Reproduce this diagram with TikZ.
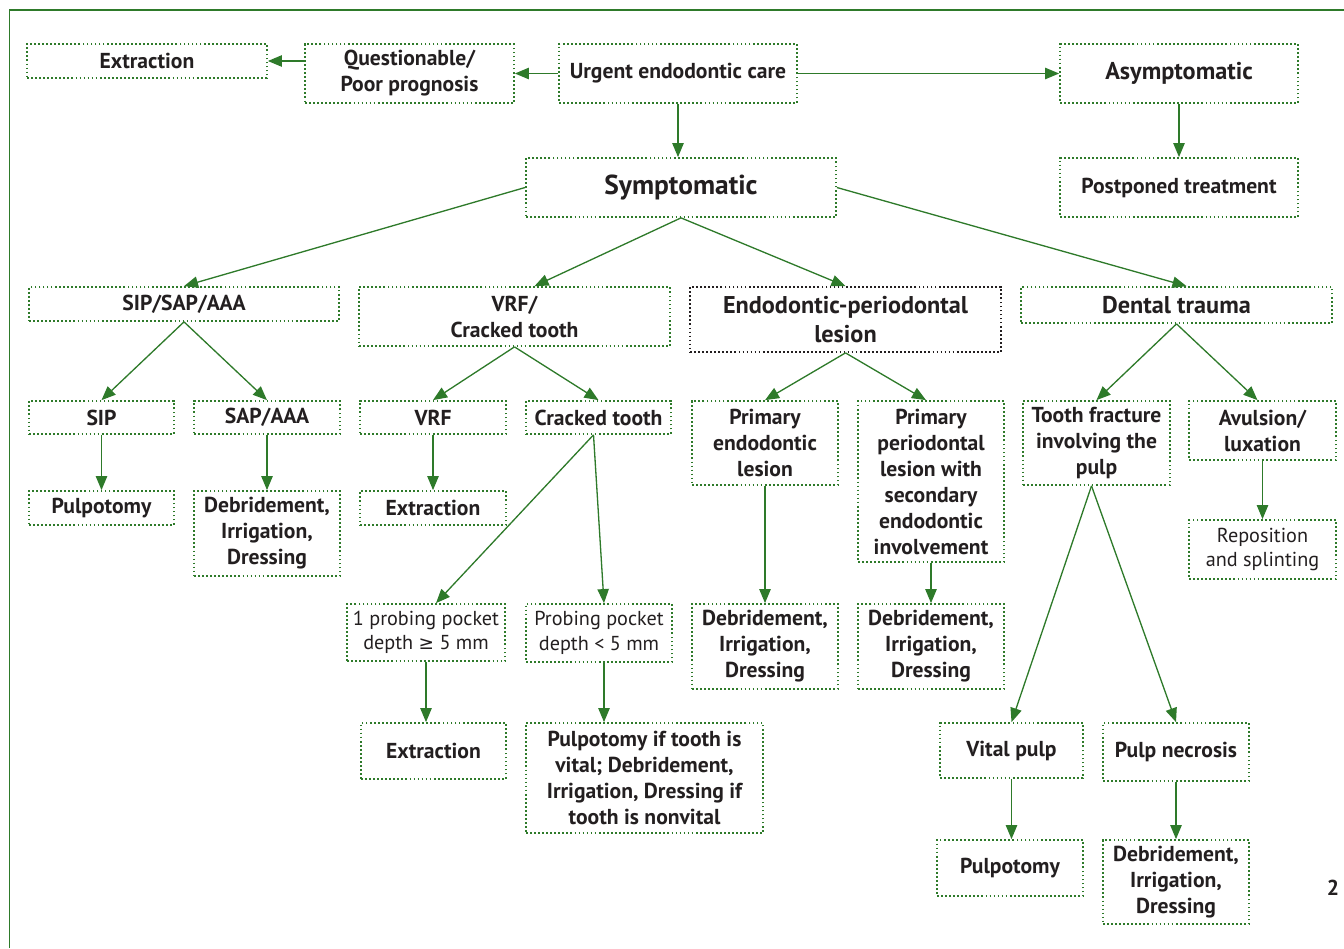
\documentclass[tikz,border=0pt]{standalone}
\usepackage{fontspec}
\setmainfont{PT Sans}
\newfontfamily\symfnt{DejaVu Sans}
\usepackage{tikz}
\usetikzlibrary{arrows.meta}
\definecolor{dkgreen}{RGB}{46,122,42}
\definecolor{txt}{RGB}{35,31,32}
\tikzset{
  box/.style={draw=dkgreen, line width=1pt, dash pattern=on 1pt off 1.3pt, align=center, inner sep=0pt, text=txt, font=\bfseries\fontsize{12.3}{14.8}\selectfont},
  plainbox/.style={box, font=\fontsize{11.5}{14}\selectfont},
  bigbox/.style={box, font=\bfseries\fontsize{13.8}{16.5}\selectfont},
  arr/.style={draw=dkgreen, line width=0.75pt, -{Triangle[length=8pt,width=6.5pt]}},
}
\begin{document}
\begin{tikzpicture}
      \useasboundingbox (0,0) rectangle (26.88,-18.96);
      \draw[dkgreen, line width=1.1pt] (0.19,-18.96) -- (0.19,-0.2) -- (26.88,-0.2);
      %%%%%%%%%%%%%%%%%%%%%%%%%%%%%%%%%%%%%%%%%%%%%%%
      \node[box, minimum width=4.8cm, minimum height=0.68cm] at (2.94,-1.22) (ext0) {Extraction};
      \node[box, minimum width=4.18cm, minimum height=1.18cm] at (8.19,-1.47) (quest) {Questionable/\\Poor prognosis};
      \node[box, minimum width=4.76cm, minimum height=1.18cm] at (13.56,-1.47) (urgent) {Urgent endodontic care};
      \node[bigbox, minimum width=4.76cm, minimum height=1.18cm] at (23.58,-1.47) (asym) {Asymptomatic};
      \draw[arr] (urgent) -- (quest);
      \draw[arr] (quest.west |- ext0.east) -- (ext0.east);
      \draw[arr] (urgent) -- (asym);
      %%%%%%%%%%%%%%%%%%%%%%%%%%%%%%%%%%%%%%%%%%%%%%%
      \node[box, minimum width=6.2cm, minimum height=1.18cm, font=\bfseries\fontsize{15.6}{18}\selectfont] at (13.62,-3.75) (sympt) {Symptomatic};
      \node[box, minimum width=4.76cm, minimum height=1.18cm] at (23.58,-3.75) (postp) {Postponed treatment};
      \draw[arr] (urgent.south) -- (urgent.south |- sympt.north);
      \draw[arr] (asym) -- (postp);
      %%%%%%%%%%%%%%%%%%%%%%%%%%%%%%%%%%%%%%%%%%%%%%%
      \node[box, minimum width=6.2cm, minimum height=0.68cm] at (3.68,-6.08) (sipsap) {SIP/SAP/AAA};
      \node[box, minimum width=6.22cm, minimum height=1.18cm] at (10.29,-6.33) (vrfct) {VRF/\\Cracked tooth};
      \node[bigbox, draw=txt, minimum width=6.22cm, minimum height=1.3cm] at (16.91,-6.39) (endoperio) {Endodontic-periodontal\\lesion};
      \node[bigbox, minimum width=6.22cm, minimum height=0.72cm] at (23.53,-6.1) (trauma) {Dental trauma};
      \draw[arr] (sympt.west) -- (sipsap.north);
      \draw[arr] (sympt.south) -- ([xshift=0.4cm]vrfct.north);
      \draw[arr] (sympt.south) -- (endoperio.north);
      \draw[arr] (sympt.east) -- ([xshift=0.2cm]trauma.north);
      %%%%%%%%%%%%%%%%%%%%%%%%%%%%%%%%%%%%%%%%%%%%%%%
      \node[box, minimum width=2.9cm, minimum height=0.66cm] at (2.03,-8.35) (sip) {SIP};
      \node[box, minimum width=2.92cm, minimum height=0.66cm] at (5.34,-8.35) (sap) {SAP/AAA};
      \node[box, minimum width=2.92cm, minimum height=0.66cm] at (8.66,-8.35) (vrf) {VRF};
      \node[box, minimum width=2.9cm, minimum height=0.66cm] at (11.97,-8.35) (cracked) {Cracked tooth};
      \node[box, minimum width=2.92cm, minimum height=1.68cm] at (15.3,-8.86) (primendo) {Primary\\endodontic\\lesion};
      \node[box, minimum width=2.92cm, minimum height=3.22cm] at (18.62,-9.63) (primperio) {Primary\\periodontal\\lesion with\\secondary\\endodontic\\involvement};
      \node[box, minimum width=2.94cm, minimum height=1.68cm] at (21.93,-8.86) (fracture) {Tooth fracture\\involving the\\pulp};
      \node[box, minimum width=2.94cm, minimum height=1.18cm] at (25.25,-8.61) (avulsion) {Avulsion/\\luxation};
      \draw[arr] (sipsap.south) -- (sip.north);
      \draw[arr] (sipsap.south) -- (sap.north);
      \draw[arr] (vrfct.south) -- (vrf.north);
      \draw[arr] (vrfct.south) -- (cracked.north);
      \draw[arr] (endoperio.south) -- (primendo.north);
      \draw[arr] (endoperio.south) -- ([xshift=-0.1cm]primperio.north);
      \draw[arr] (trauma.south) -- (fracture.north);
      \draw[arr] (trauma.south) -- ([xshift=-0.1cm]avulsion.north);
      %%%%%%%%%%%%%%%%%%%%%%%%%%%%%%%%%%%%%%%%%%%%%%%
      \node[box, minimum width=2.9cm, minimum height=0.68cm] at (2.03,-10.16) (pulpo1) {Pulpotomy};
      \node[box, minimum width=2.92cm, minimum height=1.7cm] at (5.34,-10.67) (debr1) {Debridement,\\Irrigation,\\Dressing};
      \node[box, minimum width=2.92cm, minimum height=0.68cm] at (8.66,-10.16) (ext1) {Extraction};
      \node[plainbox, minimum width=2.94cm, minimum height=1.18cm] at (25.25,-10.99) (repos) {Reposition\\and splinting};
      \draw[arr] (sip) -- (pulpo1);
      \draw[arr] (sap) -- (debr1);
      \draw[arr] (vrf) -- (ext1);
      \draw[arr] (avulsion) -- (repos);
      %%%%%%%%%%%%%%%%%%%%%%%%%%%%%%%%%%%%%%%%%%%%%%%
      \node[plainbox, minimum width=3.16cm, minimum height=1.14cm] at (8.52,-12.65) (probe1) {1 probing pocket\\depth {\symfnt\fontsize{10.5}{14}\selectfont ≥} 5 mm};
      \node[plainbox, minimum width=2.92cm, minimum height=1.16cm] at (11.98,-12.66) (probe2) {Probing pocket\\depth < 5 mm};
      \node[box, minimum width=2.92cm, minimum height=1.7cm] at (15.3,-12.93) (debr2) {Debridement,\\Irrigation,\\Dressing};
      \node[box, minimum width=2.92cm, minimum height=1.7cm] at (18.62,-12.93) (debr3) {Debridement,\\Irrigation,\\Dressing};
      \draw[arr] ([xshift=-0.1cm]cracked.south) -- ([xshift=0.2cm]probe1.north);
      \draw[arr] ([xshift=-0.1cm]cracked.south) -- ([xshift=0.1cm]probe2.north);
      \draw[arr] (primendo) -- (debr2);
      \draw[arr] (primperio) -- (debr3);
      %%%%%%%%%%%%%%%%%%%%%%%%%%%%%%%%%%%%%%%%%%%%%%%
      \node[box, minimum width=2.9cm, minimum height=1.12cm] at (8.67,-15.02) (ext2) {Extraction};
      \node[box, minimum width=4.74cm, minimum height=2.2cm] at (12.89,-15.56) (pulpif) {Pulpotomy if tooth is\\vital; Debridement,\\Irrigation, Dressing if\\tooth is nonvital};
      \node[box, minimum width=2.86cm, minimum height=1.1cm] at (20.23,-15.01) (vital) {Vital pulp};
      \node[box, minimum width=2.92cm, minimum height=1.16cm] at (23.52,-15.04) (necro) {Pulp necrosis};
      \draw[arr] (probe1.south) -- (probe1.south |- ext2.north);
      \draw[arr] ([xshift=0.1cm]probe2.south) -- ([xshift=0.1cm]probe2.south |- pulpif.north);
      \draw[arr] ([xshift=-0.1cm]fracture.south) -- (vital.north);
      \draw[arr] ([xshift=-0.1cm]fracture.south) -- (necro.north);
      %%%%%%%%%%%%%%%%%%%%%%%%%%%%%%%%%%%%%%%%%%%%%%%
      \node[box, minimum width=2.92cm, minimum height=1.12cm] at (20.2,-17.36) (pulpo2) {Pulpotomy};
      \node[box, minimum width=2.92cm, minimum height=1.68cm] at (23.52,-17.64) (debr4) {Debridement,\\Irrigation,\\Dressing};
      \draw[arr] (vital.south) -- (vital.south |- pulpo2.north);
      \draw[arr] (necro) -- (debr4);
      %%%%%%%%%%%%%%%%%%%%%%%%%%%%%%%%%%%%%%%%%%%%%%%
      \node[text=txt, font=\bfseries\fontsize{12.3}{14}\selectfont] at (26.66,-17.76) (pagenum) {2};
\end{tikzpicture}
\end{document}
